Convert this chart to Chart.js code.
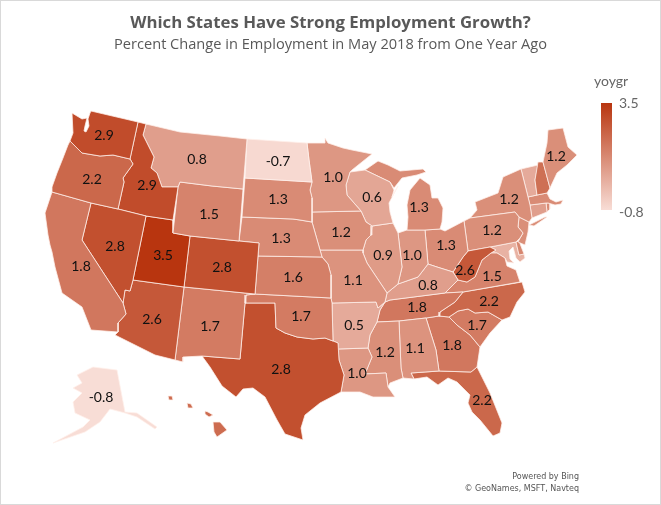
<!DOCTYPE html>
<html>
<head>
<meta charset="utf-8">
<title>Employment growth by state</title>
<script src="https://cdn.jsdelivr.net/npm/chart.js@4/dist/chart.umd.min.js"></script>
<style>
  html, body { margin: 0; padding: 0; background: #fff; }
  canvas { display: block; outline: 1px solid #d9d9d9; outline-offset: -1px; }
</style>
</head>
<body>
<canvas id="map" width="661" height="505"></canvas>
<script>
// May 2018 yoy employment growth.
// Unlabelled states (NH, VT, MA, CT, RI, NJ, DE, MD, HI) are estimated from their shade.
const stateNames = ["WA","OR","CA","NV","ID","MT","WY","UT","CO","AZ","NM","ND","SD","NE","KS","OK","TX","MN","IA","MO","AR","LA","WI","IL","MS","AL","MI","IN","KY","TN","OH","WV","VA","NC","SC","GA","FL","PA","NY","ME","NH","VT","MA","CT","RI","NJ","DE","MD","AK","HI"];
const stateValues = [2.9,2.2,1.8,2.8,2.9,0.8,1.5,3.5,2.8,2.6,1.7,-0.7,1.3,1.3,1.6,1.7,2.8,1.0,1.2,1.1,0.5,1.0,0.6,0.9,1.2,1.1,1.3,1.0,0.8,1.8,1.3,2.6,1.5,2.2,1.7,1.8,2.2,1.2,1.2,1.2,2.0,0.5,1.3,0.8,1.3,1.2,1.4,0.3,-0.8,2.1];
const unlabelled = ["NH","VT","MA","CT","RI","NJ","DE","MD","HI"];
const colorScaleTicks = [3.5, -0.8];
const legendTitle = "yoygr";
const attribution = ["Powered by Bing", "\u00a9 GeoNames, MSFT, Navteq"];

// outlines in map units, one or more rings per state
const stateOutlines = {
  WA: [[[72,113],[82,119],[87,118],[85,126],[84,131],[86,132],[89,126],[88,119],[90,113],[91,111],[138,122],[130,159],[113,155],[100,156],[82,153],[77,148],[70,141],[73,133]]],
  OR: [[[70,141],[77,148],[82,153],[100,156],[113,155],[130,159],[133,164],[123,178],[124,182],[118,209],[91,203],[52,192],[52,187],[57,173],[63,158],[68,145]]],
  CA: [[[52,192],[91,203],[82,240],[123,303],[126,314],[118,323],[118,332],[91,330],[82,307],[62,293],[55,267],[52,252],[50,245],[48,235],[45,213]]],
  NV: [[[91,203],[118,209],[146,216],[133,280],[130,291],[125,290],[123,303],[82,240]]],
  ID: [[[138,122],[146,124],[143,135],[147,143],[154,157],[151,168],[157,173],[162,187],[178,187],[173,220],[146,216],[118,209],[124,182],[123,178],[133,164],[130,159]]],
  MT: [[[146,124],[180,132],[220,136],[247,139],[243,189],[212,186],[180,182],[178,187],[162,187],[157,173],[151,168],[154,157],[147,143],[143,135]]],
  WY: [[[180,182],[212,186],[243,189],[239,241],[190,236],[173,233],[178,187]]],
  UT: [[[146,216],[173,220],[173,233],[190,236],[184,287],[133,280]]],
  CO: [[[190,236],[239,241],[259,243],[255,294],[184,287]]],
  AZ: [[[133,280],[184,287],[175,360],[155,355],[115,335],[118,332],[118,323],[126,314],[123,303],[125,290],[130,291]]],
  NM: [[[184,287],[255,294],[246,295],[245,303],[240,359],[202,356],[183,357],[183,362],[175,360]]],
  ND: [[[247,139],[307,143],[309,160],[312,182],[245,178]]],
  SD: [[[245,178],[312,182],[310,190],[312,198],[312,222],[300,220],[293,219],[242,217]]],
  NE: [[[242,217],[293,219],[300,220],[312,222],[318,243],[322,257],[258,256],[259,243],[239,241]]],
  KS: [[[258,256],[322,257],[328,264],[331,275],[331,298],[255,294]]],
  OK: [[[246,295],[255,294],[331,298],[332,303],[333,341],[325,338],[313,339],[297,337],[285,333],[276,328],[275,303],[245,303]]],
  TX: [[[245,303],[275,303],[276,328],[285,333],[297,337],[313,339],[325,338],[333,341],[338,343],[339,360],[344,375],[341,392],[320,403],[305,415],[301,428],[303,440],[285,434],[277,420],[265,397],[253,388],[243,389],[236,397],[222,386],[210,367],[202,356],[240,359]]],
  MN: [[[307,143],[325,143],[325,138],[328,143],[343,148],[352,150],[372,154],[352,170],[350,172],[346,185],[347,195],[361,211],[312,212],[312,198],[310,190],[312,182],[309,160]]],
  IA: [[[312,212],[361,211],[366,222],[372,226],[371,235],[366,240],[363,250],[320,250],[318,243],[312,222]]],
  MO: [[[320,250],[363,250],[363,253],[367,263],[375,275],[387,293],[385,302],[378,308],[376,302],[332,303],[331,298],[331,275],[328,264],[322,257]]],
  AR: [[[332,303],[376,302],[378,308],[385,302],[380,310],[377,322],[370,335],[368,348],[338,349],[338,343],[333,341]]],
  LA: [[[338,349],[368,348],[372,357],[365,374],[386,373],[388,387],[395,397],[373,397],[360,392],[341,392],[344,375],[339,360]]],
  WI: [[[350,172],[365,170],[390,182],[394,190],[392,197],[398,186],[389,203],[390,212],[393,223],[372,226],[366,222],[361,211],[347,195],[346,185]]],
  IL: [[[372,226],[393,223],[398,233],[402,267],[398,284],[387,293],[375,275],[367,263],[363,253],[363,250],[366,240],[371,235]]],
  MS: [[[377,322],[399,321],[401,368],[403,378],[390,383],[388,387],[386,373],[365,374],[372,357],[368,348],[370,335]]],
  AL: [[[399,321],[426,318],[436,350],[439,371],[411,373],[414,379],[403,378],[401,368]]],
  MI: [[[407,205],[410,190],[420,178],[430,185],[432,198],[438,198],[443,208],[442,222],[440,229],[425,230],[407,230],[408,217]],
       [[365,170],[378,161],[388,165],[400,171],[423,169],[426,172],[417,175],[402,178],[394,188],[390,182]]],
  IN: [[[398,233],[407,230],[425,230],[428,264],[418,277],[398,284],[402,267]]],
  KY: [[[387,293],[398,284],[418,277],[428,264],[437,267],[453,272],[458,280],[445,293],[390,300],[385,302]]],
  TN: [[[385,302],[390,300],[445,293],[463,292],[455,302],[440,312],[439,316],[426,318],[399,321],[377,322],[380,310]]],
  OH: [[[425,230],[440,229],[445,231],[464,221],[468,251],[463,257],[453,272],[437,267],[428,264]]],
  WV: [[[453,272],[463,257],[468,251],[490,247],[496,250],[491,253],[482,260],[475,277],[467,282],[458,280]]],
  VA: [[[445,293],[458,280],[467,282],[475,277],[482,260],[491,253],[497,253],[505,258],[507,266],[516,270],[520,282],[463,292]]],
  NC: [[[463,292],[522,282],[525,292],[517,302],[510,317],[502,320],[488,312],[475,313],[468,309],[458,311],[449,317],[439,316],[440,312],[455,302]]],
  SC: [[[449,317],[458,311],[468,309],[475,313],[488,312],[502,320],[490,333],[480,347],[470,335],[457,325]]],
  GA: [[[426,318],[439,316],[449,317],[457,325],[470,335],[480,347],[477,367],[471,372],[439,371],[436,350]]],
  FL: [[[411,373],[439,371],[471,372],[477,367],[490,393],[502,423],[500,433],[493,436],[480,420],[472,412],[468,403],[470,395],[457,382],[448,378],[438,385],[427,377],[414,379]]],
  PA: [[[464,221],[470,218],[515,212],[519,217],[518,227],[523,233],[520,238],[516,242],[490,247],[468,251]]],
  NY: [[[470,218],[477,210],[475,202],[498,193],[503,177],[521,169],[528,197],[530,205],[532,218],[529,222],[519,217],[515,212]],
       [[529,225],[545,217],[547,217],[534,226]]],
  ME: [[[543,162],[547,143],[548,130],[563,128],[568,147],[577,155],[567,165],[557,173],[550,188]]],
  NH: [[[538,162],[543,162],[550,188],[547,193],[537,195],[535,180]]],
  VT: [[[521,169],[538,165],[535,180],[537,195],[528,197]]],
  MA: [[[528,197],[537,195],[547,193],[550,199],[556,202],[563,200],[561,204],[555,205],[548,203],[546,203],[530,205]]],
  CT: [[[530,205],[546,203],[547,212],[532,218]]],
  RI: [[[546,203],[550,203],[550,209],[547,212]]],
  NJ: [[[519,217],[529,222],[528,232],[525,245],[518,242],[523,233],[518,227]]],
  DE: [[[516,242],[519,241],[524,254],[519,255]]],
  MD: [[[490,247],[516,242],[519,255],[524,254],[525,258],[520,262],[516,258],[513,247],[509,251],[510,259],[514,263],[507,262],[505,258],[497,253],[491,253],[496,250]]],
  AK: [[[77,375],[93,367],[117,370],[125,412],[137,413],[157,427],[155,429],[137,417],[125,413],[110,409],[100,422],[85,432],[53,443],[83,427],[90,420],[75,413],[73,402],[82,393],[73,388],[82,383]]],
  HI: [[[213,422],[220,422],[227,430],[217,437],[214,432]],
       [[205,411],[208,412],[213,415],[209,417],[205,414]],
       [[187,403],[191,404],[193,408],[188,408]],
       [[168,396],[172,396],[173,400],[169,400]]]
};

const labelAnchors = {WA:[104,135],OR:[92,179],CA:[81,266],NV:[115,246],ID:[147,185],MT:[197,159],WY:[209,214],UT:[163,255],CO:[222,267],AZ:[152,319],NM:[210,326],ND:[278,161],SD:[278,199],NE:[281,238],KS:[293,277],OK:[301,316],TX:[281,369],MN:[333,177],IA:[341,232],MO:[353,280],AR:[354,325],LA:[357,373],WI:[372,197],IL:[383,255],MS:[385,352],AL:[415,348],MI:[419,207],IN:[412,255],KY:[428,285],TN:[417,307],OH:[446,245],WV:[465,270],VA:[492,276],NC:[489,301],SC:[477,325],GA:[452,345],FL:[482,400],PA:[492,230],NY:[509,199],ME:[556,156],AK:[101,397]};

const LOW = [248, 221, 214], HIGH = [184, 53, 15];
function shade(v) {
  const t = (v - colorScaleTicks[1]) / (colorScaleTicks[0] - colorScaleTicks[1]);
  const c = LOW.map((l, i) => Math.round(l + (HIGH[i] - l) * t));
  return `rgb(${c[0]},${c[1]},${c[2]})`;
}

// each ring is one closed line dataset
const datasets = [];
stateNames.forEach((name, i) => {
  stateOutlines[name].forEach((ring) => {
    datasets.push({
      label: name,
      data: ring.concat([ring[0]]).map((p) => ({ x: p[0], y: p[1] })),
      showLine: true,
      fill: "shape",
      backgroundColor: shade(stateValues[i]),
      borderColor: "rgba(255,240,235,0.85)",
      borderWidth: 0.9,
      pointRadius: 0,
      tension: 0,
    });
  });
});

// value labels, colour bar and attribution, placed through the scales
const mapText = {
  id: "mapText",
  afterDatasetsDraw(chart) {
    const { ctx, scales } = chart;
    const px = (x) => scales.x.getPixelForValue(x);
    const py = (y) => scales.y.getPixelForValue(y);
    ctx.save();
    ctx.textBaseline = "middle";

    ctx.font = '14px Lato';
    ctx.fillStyle = "#111";
    ctx.textAlign = "center";
    stateNames.forEach((name, i) => {
      if (unlabelled.includes(name)) return;
      const a = labelAnchors[name];
      ctx.fillText(stateValues[i].toFixed(1), px(a[0]), py(a[1]));
    });

    const top = py(103), bottom = py(210);
    const grad = ctx.createLinearGradient(0, top, 0, bottom);
    grad.addColorStop(0, shade(colorScaleTicks[0]));
    grad.addColorStop(1, shade(colorScaleTicks[1]));
    ctx.fillStyle = grad;
    ctx.fillRect(px(601), top, 11, bottom - top);

    ctx.fillStyle = "#666";
    ctx.font = '14px Lato';
    ctx.fillText(legendTitle, px(611), py(81));
    ctx.textAlign = "left";
    ctx.fillText(colorScaleTicks[0].toFixed(1), px(619), py(103));
    ctx.fillText(colorScaleTicks[1].toFixed(1), px(619), py(212));

    ctx.fillStyle = "#555";
    ctx.font = '8px "DejaVu Sans"';
    ctx.textAlign = "right";
    ctx.fillText(attribution[0], px(579), py(477));
    ctx.fillText(attribution[1], px(579), py(489));
    ctx.restore();
  },
};

new Chart(document.getElementById("map"), {
  type: "scatter",
  data: { datasets },
  plugins: [mapText],
  options: {
    responsive: false,
    animation: false,
    layout: { padding: 0 },
    plugins: {
      legend: { display: false },
      tooltip: { enabled: false },
      title: {
        display: true,
        text: "Which States Have Strong Employment Growth?",
        color: "#595959",
        font: { family: "Open Sans", size: 16.8, weight: "bold", lineHeight: "24px" },
        padding: { top: 11, bottom: 0 },
      },
      subtitle: {
        display: true,
        text: "Percent Change in Employment in May 2018 from One Year Ago",
        color: "#595959",
        font: { family: "Open Sans", size: 14.6, weight: "normal", lineHeight: "20px" },
        padding: 0,
      },
    },
    scales: {
      // title block takes 55px, so the y range starts there
      x: { type: "linear", display: false, min: 0, max: 661 },
      y: { type: "linear", display: false, reverse: true, min: 55, max: 505 },
    },
  },
});
</script>
</body>
</html>
